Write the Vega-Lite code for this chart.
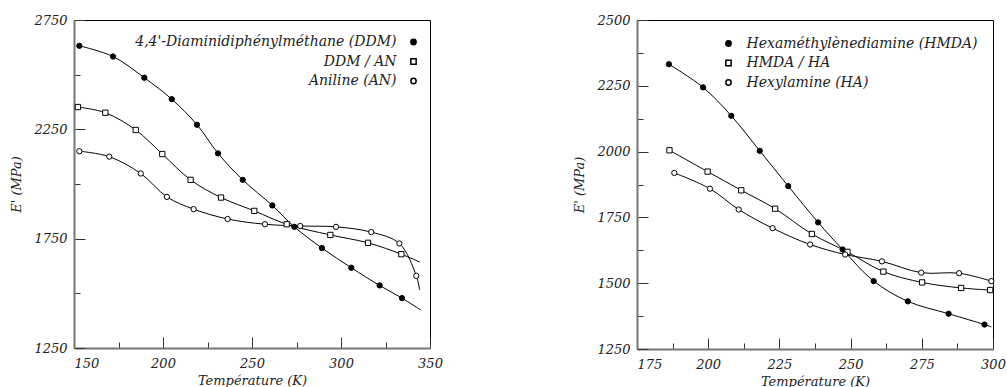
{
  "$schema": "https://vega.github.io/schema/vega-lite/v6.json",
  "background": "white",
  "padding": {"left": 10, "top": 13, "right": 5, "bottom": 0},
  "spacing": 130,
  "config": {
    "view": {"stroke": "black", "strokeWidth": 1},
    "axis": {
      "grid": false,
      "labelFont": "DejaVu Serif", "labelFontStyle": "italic", "labelFontSize": 13, "labelColor": "#222",
      "titleFont": "DejaVu Serif", "titleFontStyle": "italic", "titleFontWeight": "normal", "titleFontSize": 13, "titleColor": "#222",
      "domainColor": "#777", "domainWidth": 2, "tickColor": "#333", "tickWidth": 1
    },
    "legend": {
      "labelFont": "DejaVu Serif", "labelFontStyle": "italic", "labelFontSize": 14, "labelColor": "#222", "labelLimit": 400,
      "rowPadding": 5.5, "title": null, "symbolSize": 28
    }
  },
  "datasets": {
    "left": [
      {"s": "4,4'-Diaminidiphénylméthane (DDM)", "T": 153, "E": 2632, "m": 1},
      {"s": "4,4'-Diaminidiphénylméthane (DDM)", "T": 171.9, "E": 2583, "m": 1},
      {"s": "4,4'-Diaminidiphénylméthane (DDM)", "T": 189.5, "E": 2486, "m": 1},
      {"s": "4,4'-Diaminidiphénylméthane (DDM)", "T": 204.9, "E": 2388, "m": 1},
      {"s": "4,4'-Diaminidiphénylméthane (DDM)", "T": 219.1, "E": 2271, "m": 1},
      {"s": "4,4'-Diaminidiphénylméthane (DDM)", "T": 230.9, "E": 2140, "m": 1},
      {"s": "4,4'-Diaminidiphénylméthane (DDM)", "T": 244.8, "E": 2019, "m": 1},
      {"s": "4,4'-Diaminidiphénylméthane (DDM)", "T": 261.4, "E": 1902, "m": 1},
      {"s": "4,4'-Diaminidiphénylméthane (DDM)", "T": 273.8, "E": 1804, "m": 1},
      {"s": "4,4'-Diaminidiphénylméthane (DDM)", "T": 289.3, "E": 1707, "m": 1},
      {"s": "4,4'-Diaminidiphénylméthane (DDM)", "T": 305.8, "E": 1617, "m": 1},
      {"s": "4,4'-Diaminidiphénylméthane (DDM)", "T": 321.7, "E": 1536, "m": 1},
      {"s": "4,4'-Diaminidiphénylméthane (DDM)", "T": 334.3, "E": 1478, "m": 1},
      {"s": "4,4'-Diaminidiphénylméthane (DDM)", "T": 344.8, "E": 1424, "m": 0},
      {"s": "DDM / AN", "T": 152.2, "E": 2352, "m": 1},
      {"s": "DDM / AN", "T": 167.6, "E": 2326, "m": 1},
      {"s": "DDM / AN", "T": 184.7, "E": 2247, "m": 1},
      {"s": "DDM / AN", "T": 199.6, "E": 2137, "m": 1},
      {"s": "DDM / AN", "T": 215.5, "E": 2019, "m": 1},
      {"s": "DDM / AN", "T": 232.6, "E": 1938, "m": 1},
      {"s": "DDM / AN", "T": 251.3, "E": 1877, "m": 1},
      {"s": "DDM / AN", "T": 269.5, "E": 1816, "m": 1},
      {"s": "DDM / AN", "T": 294.0, "E": 1767, "m": 1},
      {"s": "DDM / AN", "T": 315.2, "E": 1731, "m": 1},
      {"s": "DDM / AN", "T": 333.9, "E": 1679, "m": 1},
      {"s": "DDM / AN", "T": 344.2, "E": 1643, "m": 0},
      {"s": "Aniline (AN)", "T": 153, "E": 2150, "m": 1},
      {"s": "Aniline (AN)", "T": 169.8, "E": 2125, "m": 1},
      {"s": "Aniline (AN)", "T": 187.5, "E": 2048, "m": 1},
      {"s": "Aniline (AN)", "T": 202.2, "E": 1941, "m": 1},
      {"s": "Aniline (AN)", "T": 217.2, "E": 1885, "m": 1},
      {"s": "Aniline (AN)", "T": 236.3, "E": 1840, "m": 1},
      {"s": "Aniline (AN)", "T": 257.3, "E": 1816, "m": 1},
      {"s": "Aniline (AN)", "T": 277.1, "E": 1808, "m": 1},
      {"s": "Aniline (AN)", "T": 297.2, "E": 1804, "m": 1},
      {"s": "Aniline (AN)", "T": 317.0, "E": 1780, "m": 1},
      {"s": "Aniline (AN)", "T": 332.8, "E": 1728, "m": 1},
      {"s": "Aniline (AN)", "T": 342.3, "E": 1580, "m": 1},
      {"s": "Aniline (AN)", "T": 344.2, "E": 1515, "m": 0}
    ],
    "right": [
      {"s": "Hexaméthylènediamine (HMDA)", "T": 186.2, "E": 2332, "m": 1},
      {"s": "Hexaméthylènediamine (HMDA)", "T": 198.2, "E": 2244, "m": 1},
      {"s": "Hexaméthylènediamine (HMDA)", "T": 208.1, "E": 2136, "m": 1},
      {"s": "Hexaméthylènediamine (HMDA)", "T": 218.1, "E": 2003, "m": 1},
      {"s": "Hexaméthylènediamine (HMDA)", "T": 228.1, "E": 1869, "m": 1},
      {"s": "Hexaméthylènediamine (HMDA)", "T": 238.6, "E": 1731, "m": 1},
      {"s": "Hexaméthylènediamine (HMDA)", "T": 247.2, "E": 1628, "m": 1},
      {"s": "Hexaméthylènediamine (HMDA)", "T": 258.1, "E": 1508, "m": 1},
      {"s": "Hexaméthylènediamine (HMDA)", "T": 270.1, "E": 1431, "m": 1},
      {"s": "Hexaméthylènediamine (HMDA)", "T": 284.4, "E": 1384, "m": 1},
      {"s": "Hexaméthylènediamine (HMDA)", "T": 297.0, "E": 1343, "m": 1},
      {"s": "Hexaméthylènediamine (HMDA)", "T": 299.4, "E": 1334, "m": 0},
      {"s": "HMDA / HA", "T": 186.4, "E": 2005, "m": 1},
      {"s": "HMDA / HA", "T": 199.8, "E": 1924, "m": 1},
      {"s": "HMDA / HA", "T": 211.6, "E": 1853, "m": 1},
      {"s": "HMDA / HA", "T": 223.5, "E": 1783, "m": 1},
      {"s": "HMDA / HA", "T": 236.4, "E": 1687, "m": 1},
      {"s": "HMDA / HA", "T": 248.9, "E": 1619, "m": 1},
      {"s": "HMDA / HA", "T": 261.5, "E": 1544, "m": 1},
      {"s": "HMDA / HA", "T": 275.1, "E": 1503, "m": 1},
      {"s": "HMDA / HA", "T": 288.8, "E": 1482, "m": 1},
      {"s": "HMDA / HA", "T": 299.0, "E": 1474, "m": 1},
      {"s": "Hexylamine (HA)", "T": 188.1, "E": 1919, "m": 1},
      {"s": "Hexylamine (HA)", "T": 200.6, "E": 1859, "m": 1},
      {"s": "Hexylamine (HA)", "T": 210.7, "E": 1780, "m": 1},
      {"s": "Hexylamine (HA)", "T": 222.6, "E": 1709, "m": 1},
      {"s": "Hexylamine (HA)", "T": 235.8, "E": 1647, "m": 1},
      {"s": "Hexylamine (HA)", "T": 248.1, "E": 1609, "m": 1},
      {"s": "Hexylamine (HA)", "T": 261.0, "E": 1583, "m": 1},
      {"s": "Hexylamine (HA)", "T": 274.8, "E": 1540, "m": 1},
      {"s": "Hexylamine (HA)", "T": 288.1, "E": 1538, "m": 1},
      {"s": "Hexylamine (HA)", "T": 299.4, "E": 1508, "m": 1}
    ]
  },
  "hconcat": [
    {
      "width": 356, "height": 328,
      "data": {"name": "left"},
      "encoding": {
        "x": {"field": "T", "type": "quantitative", "title": "Température (K)",
          "scale": {"domain": [150, 350], "nice": false, "zero": false},
          "axis": {"values": [150, 175, 200, 225, 250, 275, 300, 325, 350], "format": "d",
            "labelExpr": "datum.value % 50 === 0 ? datum.label : ''",
            "tickSize": {"condition": {"test": "datum.value % 50 === 0", "value": -11}, "value": -6},
            "labelAlign": {"condition": {"test": "datum.value === 150", "value": "left"}, "value": "center"},
            "labelPadding": 20, "titlePadding": 4}},
        "y": {"field": "E", "type": "quantitative", "title": "E' (MPa)",
          "scale": {"domain": [1250, 2750], "nice": false, "zero": false},
          "axis": {"values": [1250, 1500, 1750, 2000, 2250, 2500, 2750], "format": "d",
            "labelExpr": "(datum.value - 1250) % 500 === 0 ? datum.label : ''",
            "tickSize": {"condition": {"test": "(datum.value - 1250) % 500 === 0", "value": -11}, "value": -6},
            "labelPadding": 18, "titlePadding": 10}}
      },
      "layer": [
        {"mark": {"type": "line", "interpolate": "catmull-rom", "stroke": "black", "strokeWidth": 1},
         "encoding": {"detail": {"field": "s"}}},
        {"transform": [{"filter": "datum.m === 1"}],
         "mark": {"type": "point", "filled": false, "stroke": "black", "strokeWidth": 1, "size": 28, "opacity": 1},
         "encoding": {
           "shape": {"field": "s", "type": "nominal",
             "scale": {"domain": ["4,4'-Diaminidiphénylméthane (DDM)", "DDM / AN", "Aniline (AN)"], "range": ["circle", "square", "circle"]},
             "legend": {"orient": "none", "legendX": 332.5, "legendY": 15, "labelAlign": "right", "labelOffset": -24, "title": null}},
           "fill": {"field": "s", "type": "nominal",
             "scale": {"domain": ["4,4'-Diaminidiphénylméthane (DDM)", "DDM / AN", "Aniline (AN)"], "range": ["black", "white", "white"]},
             "legend": {"orient": "none", "legendX": 332.5, "legendY": 15, "labelAlign": "right", "labelOffset": -24, "title": null}}
         }}
      ]
    },
    {
      "width": 356, "height": 329,
      "data": {"name": "right"},
      "encoding": {
        "x": {"field": "T", "type": "quantitative", "title": "Température (K)",
          "scale": {"domain": [175, 300], "nice": false, "zero": false},
          "axis": {"values": [175, 187.5, 200, 212.5, 225, 237.5, 250, 262.5, 275, 287.5, 300], "format": "d",
            "labelExpr": "datum.value % 25 === 0 ? datum.label : ''",
            "tickSize": {"condition": {"test": "datum.value % 25 === 0", "value": -11}, "value": -6},
            "labelAlign": {"condition": {"test": "datum.value === 175", "value": "left"}, "value": "center"},
            "labelPadding": 20, "titlePadding": 4}},
        "y": {"field": "E", "type": "quantitative", "title": "E' (MPa)",
          "scale": {"domain": [1250, 2500], "nice": false, "zero": false},
          "axis": {"values": [1250, 1375, 1500, 1625, 1750, 1875, 2000, 2125, 2250, 2375, 2500], "format": "d",
            "labelExpr": "datum.value % 250 === 0 ? datum.label : ''",
            "tickSize": {"condition": {"test": "datum.value % 250 === 0", "value": -11}, "value": -6},
            "labelPadding": 18, "titlePadding": 10}}
      },
      "layer": [
        {"mark": {"type": "line", "interpolate": "catmull-rom", "stroke": "black", "strokeWidth": 1},
         "encoding": {"detail": {"field": "s"}}},
        {"transform": [{"filter": "datum.m === 1"}],
         "mark": {"type": "point", "filled": false, "stroke": "black", "strokeWidth": 1, "size": 28, "opacity": 1},
         "encoding": {
           "shape": {"field": "s", "type": "nominal",
             "scale": {"domain": ["Hexaméthylènediamine (HMDA)", "HMDA / HA", "Hexylamine (HA)"], "range": ["circle", "square", "circle"]},
             "legend": {"orient": "none", "legendX": 84.5, "legendY": 16.5, "labelOffset": 11, "title": null}},
           "fill": {"field": "s", "type": "nominal",
             "scale": {"domain": ["Hexaméthylènediamine (HMDA)", "HMDA / HA", "Hexylamine (HA)"], "range": ["black", "white", "white"]},
             "legend": {"orient": "none", "legendX": 84.5, "legendY": 16.5, "labelOffset": 11, "title": null}}
         }}
      ],
      "resolve": {"scale": {"shape": "independent", "fill": "independent"}}
    }
  ],
  "resolve": {"scale": {"shape": "independent", "fill": "independent", "x": "independent", "y": "independent"}}
}
